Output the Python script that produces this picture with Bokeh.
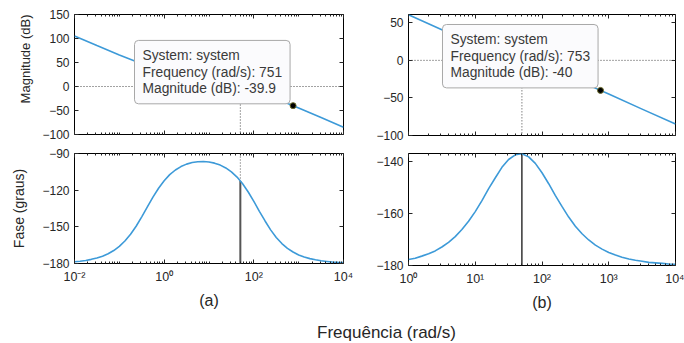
from bokeh.plotting import figure
from bokeh.models import (LogAxis, LinearAxis, FixedTicker, CustomJSTickFormatter,
                          Label, Span, Div, Spacer, Title)
from bokeh.layouts import column, row
from bokeh.embed import file_html
from bokeh.resources import INLINE

# ---------------- data ----------------
freq_mag_a = [0.01, 0.0316, 0.1, 0.316, 1, 3.16, 10, 31.6, 100, 316, 1000, 3160, 10000]
mag_a = [105.4, 85.4, 65.7, 47.5, 34.0, 23.4, 13.4, 3.1, -8.8, -25.4, -44.8, -64.8, -84.8]

freq_phase_a = [0.01, 0.0133, 0.0178, 0.0237, 0.0316, 0.0422, 0.0562, 0.075,
                0.1, 0.133, 0.178, 0.237, 0.316, 0.422, 0.562, 0.75,
                1, 1.33, 1.78, 2.37, 3.16, 4.22, 5.62, 7.5,
                10, 13.3, 17.8, 23.7, 31.6, 42.2, 56.2, 75,
                100, 133, 178, 237, 316, 422, 562, 750,
                1000, 1330, 1780, 2370, 3160, 4220, 5620, 7500, 10000]
phase_a = [-178.6, -178.1, -177.5, -176.6, -175.5, -174.0, -172.0, -169.4,
           -166.0, -161.6, -156.1, -149.5, -141.8, -133.7, -125.7, -118.4,
           -112.3, -107.3, -103.5, -100.7, -98.7, -97.4, -96.7, -96.5,
           -96.9, -97.9, -99.5, -101.8, -105.0, -109.3, -114.8, -121.5,
           -129.1, -137.3, -145.2, -152.5, -158.7, -163.7, -167.6, -170.6,
           -173.0, -174.7, -176.0, -177.0, -177.8, -178.3, -178.8, -179.1, -179.3]

freq_mag_b = [1, 3.16, 10, 31.6, 100, 316, 1000, 3160, 10000]
mag_b = [60.7, 40.8, 21.6, 5.7, -8.0, -25.3, -44.9, -64.9, -84.8]

freq_phase_b = [1, 1.26, 1.58, 2.0, 2.51, 3.16, 3.98, 5.01, 6.31, 7.94,
                10, 12.6, 15.8, 20.0, 25.1, 31.6, 39.8, 50.1, 63.1, 79.4,
                100, 126, 158, 200, 251, 316, 398, 501, 631, 794,
                1000, 1260, 1580, 2000, 2510, 3160, 3980, 5010, 6310, 7940, 10000]
phase_b = [-177.7, -177.2, -176.4, -175.5, -174.4, -172.9, -171.1, -168.9, -166.2, -163.0,
           -159.3, -155.1, -150.6, -146.3, -142.3, -139.3, -137.5, -137.1, -138.3, -140.8,
           -144.4, -148.6, -153.1, -157.4, -161.4, -164.9, -167.8, -170.2, -172.2, -173.7,
           -175.0, -176.0, -176.8, -177.5, -178.0, -178.4, -178.8, -179.0, -179.2, -179.4, -179.5]

tip_freq_a, tip_mag_a = 751, -39.9
tip_freq_b, tip_mag_b = 753, -40
wc_a, pm_phase_a = 50, -112.4
wc_b, pm_phase_b = 50, -137.1

tip_text_a = "System: system\nFrequency (rad/s): 751\nMagnitude (dB): -39.9"
tip_text_b = "System: system\nFrequency (rad/s): 753\nMagnitude (dB): -40"

mag_ticks_a = [-100, -50, 0, 50, 100, 150]
phase_ticks_a = [-180, -150, -120, -90]
mag_ticks_b = [-100, -50, 0, 50]
phase_ticks_b = [-180, -160, -140]
xticks_a = [1e-2, 1, 1e2, 1e4]
xticks_b = [1, 10, 100, 1000, 10000]

# ---------------- styling ----------------
FONT = "Liberation Sans"
BLUE = "#3d9ad8"
TXT = "#262626"


def minors(lo, hi, majors):
    out = []
    for n in range(lo, hi):
        for k in range(1, 10):
            v = k * 10.0 ** n
            if all(abs(v - m) > 1e-9 * m for m in majors):
                out.append(v)
    return out


sup_fmt = CustomJSTickFormatter(code="""
const m = {"-":"\u207b","0":"\u2070","1":"\u00b9","2":"\u00b2","3":"\u00b3","4":"\u2074","5":"\u2075"};
const e = Math.round(Math.log10(tick));
return "10" + String(e).split("").map(c => m[c]).join("");
""")


def style_axis(ax, hidden_labels):
    ax.major_tick_in = 4
    ax.major_tick_out = 0
    ax.minor_tick_in = 2
    ax.minor_tick_out = 0
    ax.axis_line_color = None
    ax.major_tick_line_color = TXT
    ax.minor_tick_line_color = TXT
    ax.major_label_text_font = FONT
    ax.major_label_text_color = TXT
    ax.axis_label_text_font = FONT
    ax.axis_label_text_font_style = "normal"
    ax.axis_label_text_color = TXT
    if hidden_labels:
        ax.major_label_text_font_size = "1px"
        ax.major_label_text_alpha = 0
        ax.major_label_standoff = 0


def make_fig(xr, yr, fw, fh, bl, br, bt, bb, xt, xminor, yt, show_x, xlabel=None, ylabel=None):
    p = figure(x_axis_type="log", x_range=xr, y_range=yr, frame_width=fw, frame_height=fh,
               min_border_left=bl, min_border_right=br, min_border_top=bt, min_border_bottom=bb,
               toolbar_location=None, output_backend="svg")
    p.grid.visible = False
    p.outline_line_color = "black"
    p.outline_line_width = 1
    p.background_fill_color = "white"
    p.border_fill_color = "white"

    xtk = FixedTicker(ticks=xt, minor_ticks=xminor)
    ytk = FixedTicker(ticks=yt, minor_ticks=[])

    xa = p.xaxis[0]
    xa.ticker = xtk
    xa.formatter = sup_fmt
    style_axis(xa, not show_x)
    if show_x:
        xa.major_label_text_font_size = "12.5px"
        xa.major_label_standoff = 6
        xa.axis_label = xlabel
        xa.axis_label_text_font_size = "16px"
        xa.axis_label_standoff = 5

    ya = p.yaxis[0]
    ya.ticker = ytk
    style_axis(ya, False)
    ya.major_label_text_font_size = "12px"
    ya.major_label_standoff = 5
    if ylabel:
        ya.axis_label = ylabel
        ya.axis_label_text_font_size = "14px"
        ya.axis_label_standoff = 12

    top = LogAxis(ticker=xtk)
    style_axis(top, True)
    p.add_layout(top, "above")
    right = LinearAxis(ticker=ytk)
    style_axis(right, True)
    p.add_layout(right, "right")
    return p


def tip_label(x, y, text):
    return Label(x=x, y=y, x_units="data", y_units="data", text=text,
                 text_align="left", text_baseline="top",
                 text_font=FONT, text_font_size="13.8px", text_color="#3a3a3a",
                 text_line_height=1.08, padding=8,
                 background_fill_color="#fbfbfd", border_line_color="#a8a8a8",
                 border_line_width=1, border_radius=4)


# ---- (a) magnitude ----
tl = make_fig((1e-2, 1e4), (-100, 150), 269, 120, 74, 27, 6, 19,
              xticks_a, minors(-2, 4, xticks_a), mag_ticks_a, False)
tl.add_layout(Title(text="Magnitude (dB)", align="right", text_font=FONT, text_font_size="13px",
                    text_font_style="normal", text_color=TXT, standoff=14), "left")
tl.add_layout(Span(location=0, dimension="width", line_color="#444444", line_dash="1 2", line_width=1))
tl.segment(x0=[wc_a], y0=[0], x1=[wc_a], y1=[-100], line_color="#444444", line_dash="1 2", line_width=1)
tl.line(freq_mag_a, mag_a, line_color=BLUE, line_width=1.6)
tl.scatter([tip_freq_a], [tip_mag_a], size=6, fill_color="black", line_color="#6b6b2a")
tl.add_layout(tip_label(0.218, 96, tip_text_a))

# ---- (b) magnitude ----
tr = make_fig((1, 1e4), (-100, 61), 267, 121, 38, 9, 14, 10,
              xticks_b, minors(0, 4, xticks_b), mag_ticks_b, False)
tr.add_layout(Span(location=0, dimension="width", line_color="#444444", line_dash="1 2", line_width=1))
tr.segment(x0=[wc_b], y0=[0], x1=[wc_b], y1=[-100], line_color="#444444", line_dash="1 2", line_width=1)
tr.line(freq_mag_b, mag_b, line_color=BLUE, line_width=1.6)
tr.scatter([tip_freq_b], [tip_mag_b], size=6, fill_color="black", line_color="#6b6b2a")
tr.add_layout(tip_label(3.23, 47.7, tip_text_b))

# ---- (a) phase ----
bl = make_fig((1e-2, 1e4), (-180, -90), 269, 110, 74, 27, 8, 55,
              xticks_a, minors(-2, 4, xticks_a), phase_ticks_a, True, xlabel="(a)", ylabel="Fase (graus)")
bl.segment(x0=[wc_a], y0=[-90], x1=[wc_a], y1=[pm_phase_a], line_color="#555555", line_dash="1 2", line_width=1)
bl.segment(x0=[wc_a], y0=[-180], x1=[wc_a], y1=[pm_phase_a], line_color="#555555", line_width=2)
bl.line(freq_phase_a, phase_a, line_color=BLUE, line_width=1.6)

# ---- (b) phase ----
br = make_fig((1, 1e4), (-180, -137), 267, 112, 38, 9, 8, 53,
              xticks_b, minors(0, 4, xticks_b), phase_ticks_b, True, xlabel="(b)")
br.segment(x0=[wc_b], y0=[-180], x1=[wc_b], y1=[pm_phase_b], line_color="black", line_width=1.2)
br.line(freq_phase_b, phase_b, line_color=BLUE, line_width=1.6)

xlabel_div = Div(text="Frequência (rad/s)", width=605, height=20,
                 styles={"text-align": "center", "font-family": "'Liberation Sans', Arial, sans-serif",
                         "font-size": "17px", "line-height": "20px", "color": TXT})

layout = column(row(tl, tr), row(bl, br), row(Spacer(width=79, height=20), xlabel_div))

open("out.html", "w").write(file_html(layout, INLINE))
